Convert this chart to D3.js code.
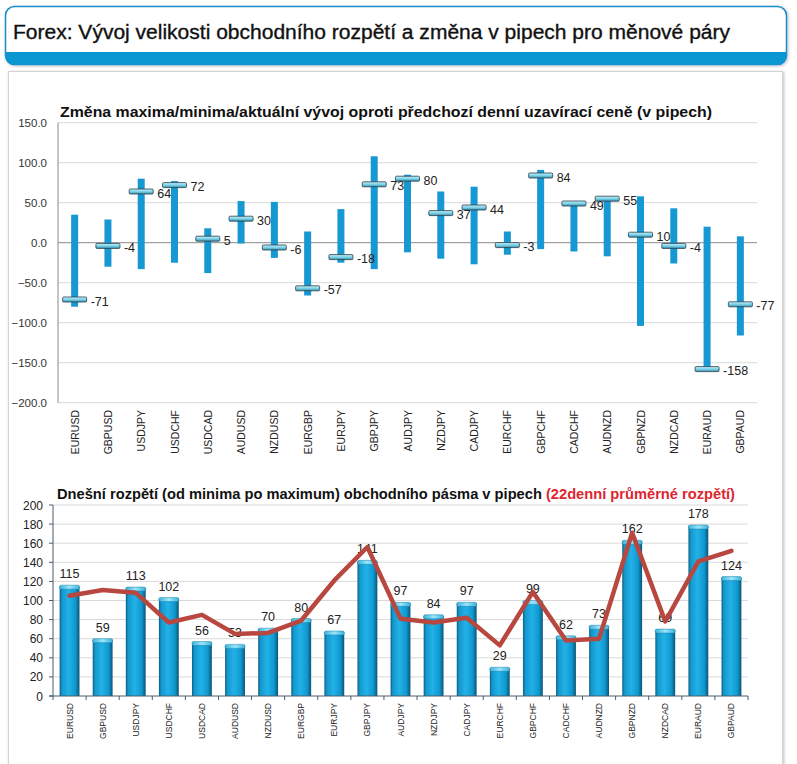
<!DOCTYPE html>
<html>
<head>
<meta charset="utf-8">
<title>Forex</title>
<script src="https://cdn.jsdelivr.net/npm/d3@7"></script>
<style>
  body { margin: 0; background: #fff; }
  text { font-family: "Liberation Sans", Arial, sans-serif; }
</style>
</head>
<body>
<svg width="797" height="764" id="mainsvg"></svg>
<script>
// data
const pairs = ['EURUSD','GBPUSD','USDJPY','USDCHF','USDCAD','AUDUSD','NZDUSD','EURGBP','EURJPY','GBPJPY',
  'AUDJPY','NZDJPY','CADJPY','EURCHF','GBPCHF','CADCHF','AUDNZD','GBPNZD','NZDCAD','EURAUD','GBPAUD'];
const changeNow = [-71,-4,64,72,5,30,-6,-57,-18,73,80,37,44,-3,84,49,55,10,-4,-158,-77];
const changeHigh = [35,29,80,77,18,52,51,14,42,108,85,64,70,14,91,51,56,58,43,20,8];
const changeLow = [-80,-30,-33,-25,-38,-1,-19,-66,-25,-33,-12,-20,-27,-15,-8,-11,-17,-104,-26,-158,-116];
const rangeToday = [115,59,113,102,56,53,70,80,67,141,97,84,97,29,99,62,73,162,69,178,124];
const range22 = [105,111,108,77,85,65,66,79,121,156,81,77,82,53,109,58,60,171,78,141,152];
const topTicks = [150,100,50,0,-50,-100,-150,-200];
const bottomTicks = [0,20,40,60,80,100,120,140,160,180,200];

const svg = d3.select('svg');
const defs = svg.append('defs');

// gradients
const gBar = defs.append('linearGradient').attr('id','gBar').attr('x1','0').attr('x2','1').attr('y1','0').attr('y2','0');
[['0%','#0b5f86'],['12%','#1498cd'],['45%','#22b2e8'],['80%','#0f98cf'],['100%','#0a5475']]
  .forEach(s => gBar.append('stop').attr('offset', s[0]).attr('stop-color', s[1]));
const gCap = defs.append('linearGradient').attr('id','gCap').attr('x1','0').attr('x2','0').attr('y1','0').attr('y2','1');
[['0%','#c4f1fb'],['50%','#7dd4ea'],['100%','#3690ad']]
  .forEach(s => gCap.append('stop').attr('offset', s[0]).attr('stop-color', s[1]));
const gBarTop = defs.append('linearGradient').attr('id','gBarTop').attr('x1','0').attr('x2','1').attr('y1','0').attr('y2','0');
[['0%','#3cb4dc'],['50%','#9be6fa'],['100%','#3cb4dc']]
  .forEach(s => gBarTop.append('stop').attr('offset', s[0]).attr('stop-color', s[1]));
const shadow = defs.append('filter').attr('id','sh').attr('x','-5%').attr('y','-5%').attr('width','110%').attr('height','110%');
shadow.append('feDropShadow').attr('dx',1).attr('dy',1).attr('stdDeviation',1.5).attr('flood-color','#000').attr('flood-opacity',0.25);

// header
svg.append('rect').attr('x',5.5).attr('y',6.5).attr('width',781).attr('height',58).attr('rx',9)
  .attr('fill','#fff').attr('stroke','#1a8cc8').attr('stroke-width',1.5).attr('filter','url(#sh)');
svg.append('path')
  .attr('d','M5.5,52 L786.5,52 L786.5,55.5 Q786.5,64.5 777.5,64.5 L14.5,64.5 Q5.5,64.5 5.5,55.5 Z')
  .attr('fill','#0a96d0');
svg.append('text').attr('x',13).attr('y',39).attr('font-size',20).attr('fill','#111')
  .attr('stroke','#111').attr('stroke-width',0.35)
  .attr('textLength',717).attr('lengthAdjust','spacingAndGlyphs')
  .text('Forex: Vývoj velikosti obchodního rozpětí a změna v pipech pro měnové páry');

// panel
svg.append('rect').attr('x',8.5).attr('y',71.5).attr('width',774).attr('height',710)
  .attr('fill','#fff').attr('stroke','#d4d4d4').attr('filter','url(#sh)');

// ---------- top chart ----------
const x1 = d3.scaleBand().domain(pairs).range([58,757]);
const y1 = d3.scaleLinear().domain([-200,150]).range([402.7,122.7]);
const topG = svg.append('g');

topG.selectAll('.grid1').data(topTicks).join('line').attr('class','grid1')
  .attr('x1',58).attr('x2',757).attr('y1',d => y1(d)).attr('y2',d => y1(d))
  .attr('stroke', d => d === 0 ? '#8a8a8a' : '#d9d9d9').attr('stroke-width',1);
topG.append('line').attr('x1',58).attr('x2',58).attr('y1',y1(150)).attr('y2',y1(-200)).attr('stroke','#8a8a8a');
topG.selectAll('.ylab1').data(topTicks).join('text').attr('class','ylab1')
  .attr('x',47).attr('y',d => y1(d)+4).attr('text-anchor','end').attr('font-size',11.5).attr('fill','#333')
  .text(d => d3.format('.1f')(d));

const cx1 = i => x1(pairs[i]) + x1.bandwidth()/2;
topG.selectAll('.rng').data(pairs).join('rect').attr('class','rng')
  .attr('x',(d,i) => cx1(i)-3.5).attr('width',7)
  .attr('y',(d,i) => y1(changeHigh[i])).attr('height',(d,i) => y1(changeLow[i]) - y1(changeHigh[i]))
  .attr('fill','#1698d3');
topG.selectAll('.mk').data(pairs).join('rect').attr('class','mk')
  .attr('x',(d,i) => cx1(i)-12).attr('width',24)
  .attr('y',(d,i) => y1(changeNow[i])-2.5).attr('height',5).attr('rx',1)
  .attr('fill','url(#gCap)').attr('stroke','#2c3e46').attr('stroke-width',0.8);
topG.selectAll('.vl').data(pairs).join('text').attr('class','vl')
  .attr('x',(d,i) => cx1(i)+16).attr('y',(d,i) => y1(changeNow[i])+6)
  .attr('font-size',12.5).attr('fill','#222')
  .text((d,i) => changeNow[i]);
topG.selectAll('.xl1').data(pairs).join('text').attr('class','xl1')
  .attr('transform',(d,i) => `translate(${cx1(i)+4},410) rotate(-90)`)
  .attr('text-anchor','end').attr('font-size',10.5).attr('fill','#222')
  .text(d => d);
topG.append('text').attr('x',60).attr('y',117).attr('font-size',15).attr('font-weight','bold').attr('fill','#111')
  .attr('textLength',652).attr('lengthAdjust','spacingAndGlyphs')
  .text('Změna maxima/minima/aktuální vývoj oproti předchozí denní uzavírací ceně (v pipech)');

// ---------- bottom chart ----------
const x2 = d3.scaleBand().domain(pairs).range([53,748]).paddingInner(0.4).paddingOuter(0.2);
const y2 = d3.scaleLinear().domain([0,200]).range([696,505]);
const botG = svg.append('g');
const cx2 = i => x2(pairs[i]) + x2.bandwidth()/2;

botG.selectAll('.grid2').data(bottomTicks.slice(1)).join('line').attr('class','grid2')
  .attr('x1',53).attr('x2',748).attr('y1',d => y2(d)).attr('y2',d => y2(d))
  .attr('stroke','#d9d9d9');
botG.selectAll('.ylab2').data(bottomTicks).join('text').attr('class','ylab2')
  .attr('x',43).attr('y',d => y2(d)+4.5).attr('text-anchor','end').attr('font-size',12).attr('fill','#222')
  .text(d => d);
botG.selectAll('.yt2').data(bottomTicks).join('line').attr('class','yt2')
  .attr('x1',49).attr('x2',53).attr('y1',d => y2(d)).attr('y2',d => y2(d)).attr('stroke','#4a5a6a');

botG.selectAll('.bar').data(pairs).join('rect').attr('class','bar')
  .attr('x',d => x2(d)).attr('width',x2.bandwidth())
  .attr('y',(d,i) => y2(rangeToday[i])).attr('height',(d,i) => y2(0) - y2(rangeToday[i]))
  .attr('fill','url(#gBar)');
botG.selectAll('.cap').data(pairs).join('rect').attr('class','cap')
  .attr('x',d => x2(d)).attr('width',x2.bandwidth())
  .attr('y',(d,i) => y2(rangeToday[i])-1).attr('height',4).attr('rx',1.5)
  .attr('fill','url(#gBarTop)').attr('stroke','#1b7fa8').attr('stroke-width',0.5);

botG.append('line').attr('x1',53).attr('x2',53).attr('y1',y2(200)).attr('y2',y2(0)).attr('stroke','#4a5a6a');
botG.append('line').attr('x1',49).attr('x2',748).attr('y1',y2(0)).attr('y2',y2(0)).attr('stroke','#4a5a6a');
const step2 = x2.step();
botG.selectAll('.xt2').data(d3.range(pairs.length+1)).join('line').attr('class','xt2')
  .attr('x1',d => 53 + d*step2).attr('x2',d => 53 + d*step2).attr('y1',696).attr('y2',700).attr('stroke','#4a5a6a');

botG.selectAll('.bl').data(pairs).join('text').attr('class','bl')
  .attr('x',(d,i) => cx2(i)).attr('y',(d,i) => y2(rangeToday[i])-8)
  .attr('text-anchor','middle').attr('font-size',12.5).attr('fill','#222')
  .text((d,i) => rangeToday[i]);

const line = d3.line().x((d,i) => cx2(i)).y(d => y2(d));
botG.append('path').datum(range22).attr('d',line).attr('fill','none')
  .attr('stroke','#b8473f').attr('stroke-width',4.5).attr('stroke-linejoin','round').attr('stroke-linecap','round');

botG.selectAll('.xl2').data(pairs).join('text').attr('class','xl2')
  .attr('transform',(d,i) => `translate(${cx2(i)+3},703) rotate(-90)`)
  .attr('text-anchor','end').attr('font-size',8.5).attr('fill','#222')
  .text(d => d);

const t2 = botG.append('text').attr('x',57).attr('y',499).attr('font-size',15).attr('font-weight','bold')
  .attr('textLength',678).attr('lengthAdjust','spacingAndGlyphs');
t2.append('tspan').attr('fill','#111').text('Dnešní rozpětí (od minima po maximum) obchodního pásma v pipech ');
t2.append('tspan').attr('fill','#dc2630').text('(22denní průměrné rozpětí)');
</script>
</body>
</html>
